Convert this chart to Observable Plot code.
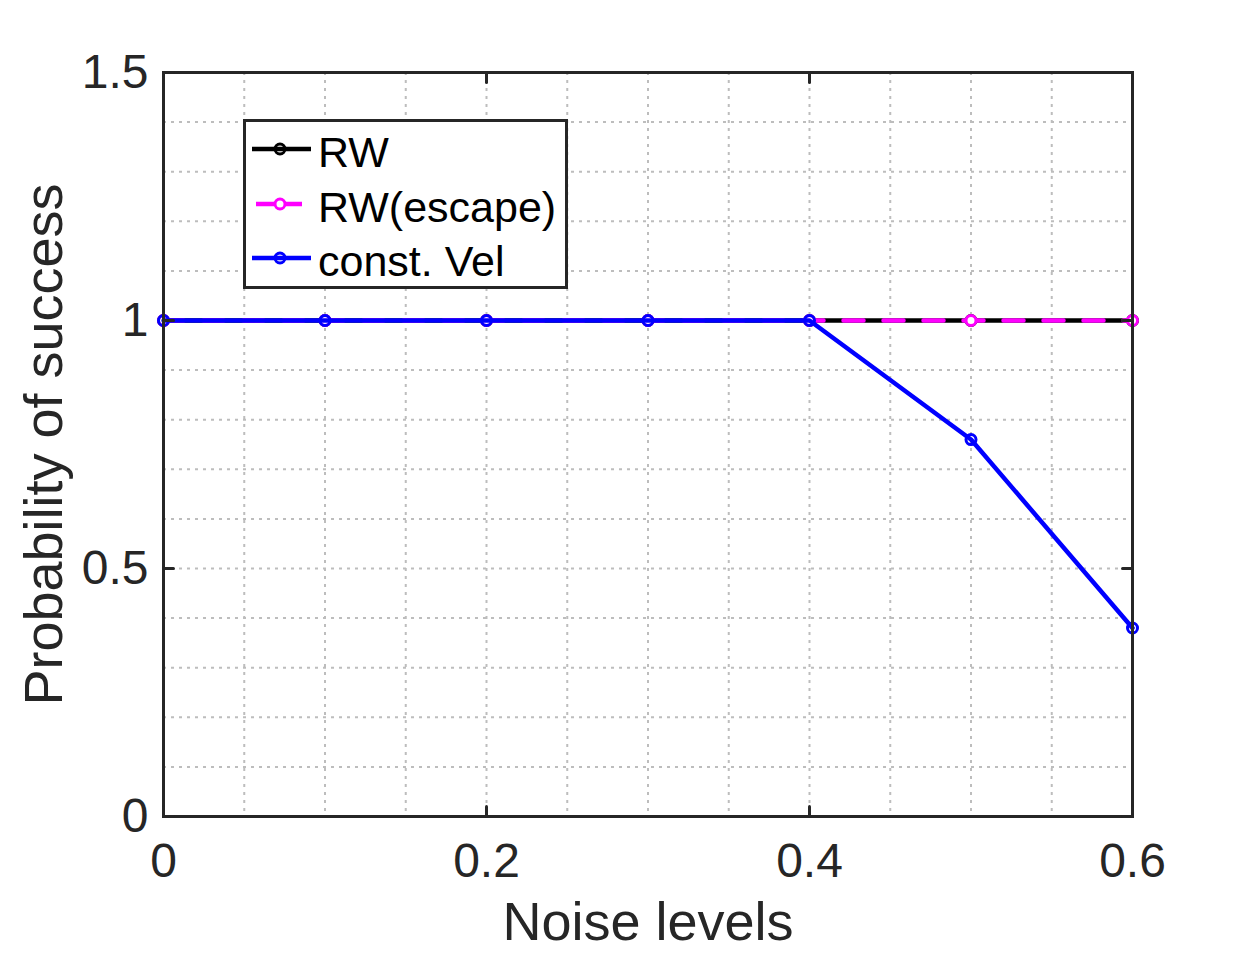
<!DOCTYPE html>
<html>
<head>
<meta charset="utf-8">
<script src="https://cdn.jsdelivr.net/npm/d3@7"></script>
<script src="https://cdn.jsdelivr.net/npm/@observablehq/plot@0.6"></script>
<style>
  body { margin: 0; background: #fff; }
  #wrap { position: relative; width: 1250px; height: 956px; background: #fff; }
  #legend { position: absolute; left: 243px; top: 119px; }
</style>
</head>
<body>
<div id="wrap"></div>
<script>
// ---- data ----
const noise = [0, 0.1, 0.2, 0.3, 0.4, 0.5, 0.6];
const rw = [1, 1, 1, 1, 1, 1, 1];
const rwEscape = [1, 1, 1, 1, 1, 1, 1];
const constVel = [1, 1, 1, 1, 1, 0.76, 0.38];
const seriesNames = ["RW", "RW(escape)", "const. Vel"];
const xTicks = [0, 0.2, 0.4, 0.6];
const yTicks = [0, 0.5, 1, 1.5];
const xGrid = [0.05, 0.1, 0.15, 0.2, 0.25, 0.3, 0.35, 0.4, 0.45, 0.5, 0.55];
const yGrid = [0.1, 0.2, 0.3, 0.4, 0.5, 0.6, 0.7, 0.8, 0.9, 1, 1.1, 1.2, 1.3, 1.4];
const xLabel = "Noise levels";
const yLabel = "Probability of success";

const seriesValues = [rw, rwEscape, constVel];
const styles = [
  {color: "#000000", dash: null, fill: "none"},
  {color: "#ff00ff", dash: "20,20", fill: "white"},
  {color: "#0000ff", dash: null, fill: "none"}
];
const tables = seriesValues.map((vals, i) => noise.map((x, j) => ({x, y: vals[j], series: seriesNames[i]})));

const FONT = '"Liberation Sans", Arial, Helvetica, sans-serif';
const AX = "#262626";
const tickShape = {draw(ctx, l) { ctx.moveTo(0, 0); ctx.lineTo(0, -l); }};

const marks = [
  Plot.ruleX(xGrid, {x: d => d, stroke: "#bdbdbd", strokeWidth: 2, strokeDasharray: "3,5"}),
  Plot.ruleY(yGrid, {y: d => d, stroke: "#bdbdbd", strokeWidth: 2, strokeDasharray: "3,5"})
];
tables.forEach((t, i) => {
  const s = styles[i];
  marks.push(Plot.line(t, {x: "x", y: "y", stroke: s.color, strokeWidth: 4.5, strokeDasharray: s.dash}));
  marks.push(Plot.dot(t, {x: "x", y: "y", r: 5, stroke: s.color, strokeWidth: 3, fill: s.fill}));
});
marks.push(
  Plot.frame({stroke: AX, strokeWidth: 3}),
  Plot.vector(xTicks, {x: d => d, frameAnchor: "bottom", length: 10, rotate: 0, anchor: "start", shape: tickShape, stroke: AX, strokeWidth: 3}),
  Plot.vector(xTicks, {x: d => d, frameAnchor: "top", length: 10, rotate: 180, anchor: "start", shape: tickShape, stroke: AX, strokeWidth: 3}),
  Plot.vector(yTicks, {y: d => d, frameAnchor: "left", length: 10, rotate: 90, anchor: "start", shape: tickShape, stroke: AX, strokeWidth: 3}),
  Plot.vector(yTicks, {y: d => d, frameAnchor: "right", length: 10, rotate: -90, anchor: "start", shape: tickShape, stroke: AX, strokeWidth: 3}),
  Plot.axisX(xTicks, {anchor: "bottom", tickSize: 0, tickPadding: 26, fontSize: 48, tickFormat: d => String(d), label: null, color: AX}),
  Plot.axisY(yTicks, {anchor: "left", tickSize: 0, tickPadding: 15, fontSize: 48, tickFormat: d => String(d), label: null, color: AX}),
  Plot.text([xLabel], {text: d => d, frameAnchor: "bottom", dy: 106, lineAnchor: "middle", textAnchor: "middle", fontSize: 54, fill: AX}),
  Plot.text([yLabel], {text: d => d, frameAnchor: "left", dx: -119, rotate: -90, lineAnchor: "middle", textAnchor: "middle", fontSize: 54, fill: AX})
);

const chart = Plot.plot({
  width: 1250,
  height: 956,
  marginLeft: 163,
  marginRight: 118,
  marginTop: 72,
  marginBottom: 140,
  x: {domain: [0, 0.6]},
  y: {domain: [0, 1.5]},
  style: {fontFamily: FONT, background: "#fff", color: AX, overflow: "visible"},
  marks
});
document.getElementById("wrap").appendChild(chart);

// ---- legend ----
const LW = 325, LH = 170;
const leg = d3.select("#wrap").append("svg")
  .attr("id", "legend").attr("width", LW).attr("height", LH)
  .style("font-family", FONT);
leg.append("rect").attr("x", 1.5).attr("y", 1.5).attr("width", LW - 3).attr("height", LH - 3)
  .attr("fill", "#fff").attr("stroke", AX).attr("stroke-width", 3);
const rowY = [30, 85, 139];
seriesNames.forEach((name, i) => {
  const s = styles[i];
  const g = leg.append("g");
  g.append("line").attr("x1", 9).attr("x2", 68).attr("y1", rowY[i]).attr("y2", rowY[i])
    .attr("stroke", s.color).attr("stroke-width", 4.5)
    .attr("stroke-dasharray", s.dash ? "18,10" : null).attr("stroke-dashoffset", s.dash ? -4 : null);
  g.append("circle").attr("cx", 37).attr("cy", rowY[i]).attr("r", 5)
    .attr("fill", s.fill === "none" ? "none" : "#fff").attr("stroke", s.color).attr("stroke-width", 3);
  g.append("text").attr("x", 75).attr("y", rowY[i] + 18).attr("font-size", 43).attr("fill", "#000").text(name);
});
</script>
</body>
</html>
